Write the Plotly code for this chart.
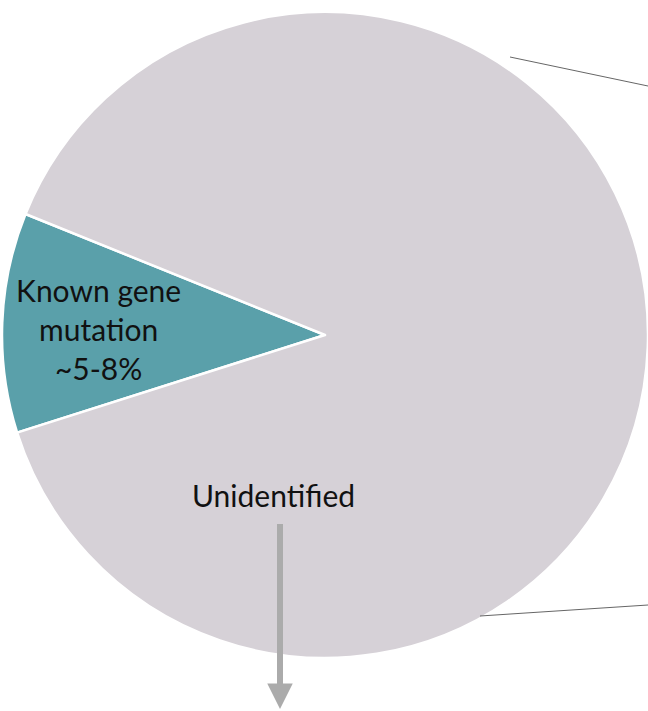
import plotly.graph_objects as go

# Share of cases by cause
categories = ["Known gene mutation", "Unidentified"]
shares = [11, 89]
slice_colors = ["#5aa0aa", "#d6d1d7"]
slice_labels = ["Known gene<br>mutation<br>~5-8%", "Unidentified"]

W, H = 648, 711

fig = go.Figure(
    go.Pie(
        labels=categories,
        values=shares,
        sort=False,
        direction="counterclockwise",
        rotation=-107.6,
        marker=dict(colors=slice_colors, line=dict(color="white", width=2.5)),
        textinfo="none",
        hoverinfo="label+percent",
        showlegend=False,
        domain=dict(x=[2 / W, 1.0], y=[53 / H, 699 / H]),
    )
)

label_font = dict(family="Lato, Open Sans, sans-serif", size=30, color="#111111")

# Slice labels
fig.add_annotation(
    x=98 / W, y=1 - 329 / H, xref="paper", yref="paper",
    text=slice_labels[0], showarrow=False, font=label_font,
    align="center", xanchor="center", yanchor="middle",
)
fig.add_annotation(
    x=273 / W, y=1 - 495 / H, xref="paper", yref="paper",
    text=slice_labels[1], showarrow=False, font=label_font,
    xanchor="center", yanchor="middle",
)

# Downward arrow below the "Unidentified" label
fig.add_annotation(
    x=280 / W, y=1 - 709 / H, xref="paper", yref="paper",
    text=" ", font=dict(size=1),
    showarrow=True, ax=0, ay=-187,
    arrowhead=2, arrowsize=0.85, arrowwidth=6, arrowcolor="#ababab",
)

# Thin leader lines off the right side of the pie
line_style = dict(color="#666666", width=1)
fig.add_shape(type="line", xref="paper", yref="paper",
              x0=510 / W, y0=1 - 57 / H, x1=1.0, y1=1 - 86 / H, line=line_style)
fig.add_shape(type="line", xref="paper", yref="paper",
              x0=480 / W, y0=1 - 616 / H, x1=1.0, y1=1 - 605 / H, line=line_style)

fig.update_layout(
    width=W, height=H,
    margin=dict(l=0, r=0, t=0, b=0),
    paper_bgcolor="white",
    plot_bgcolor="white",
)

fig.write_html("out.html")
